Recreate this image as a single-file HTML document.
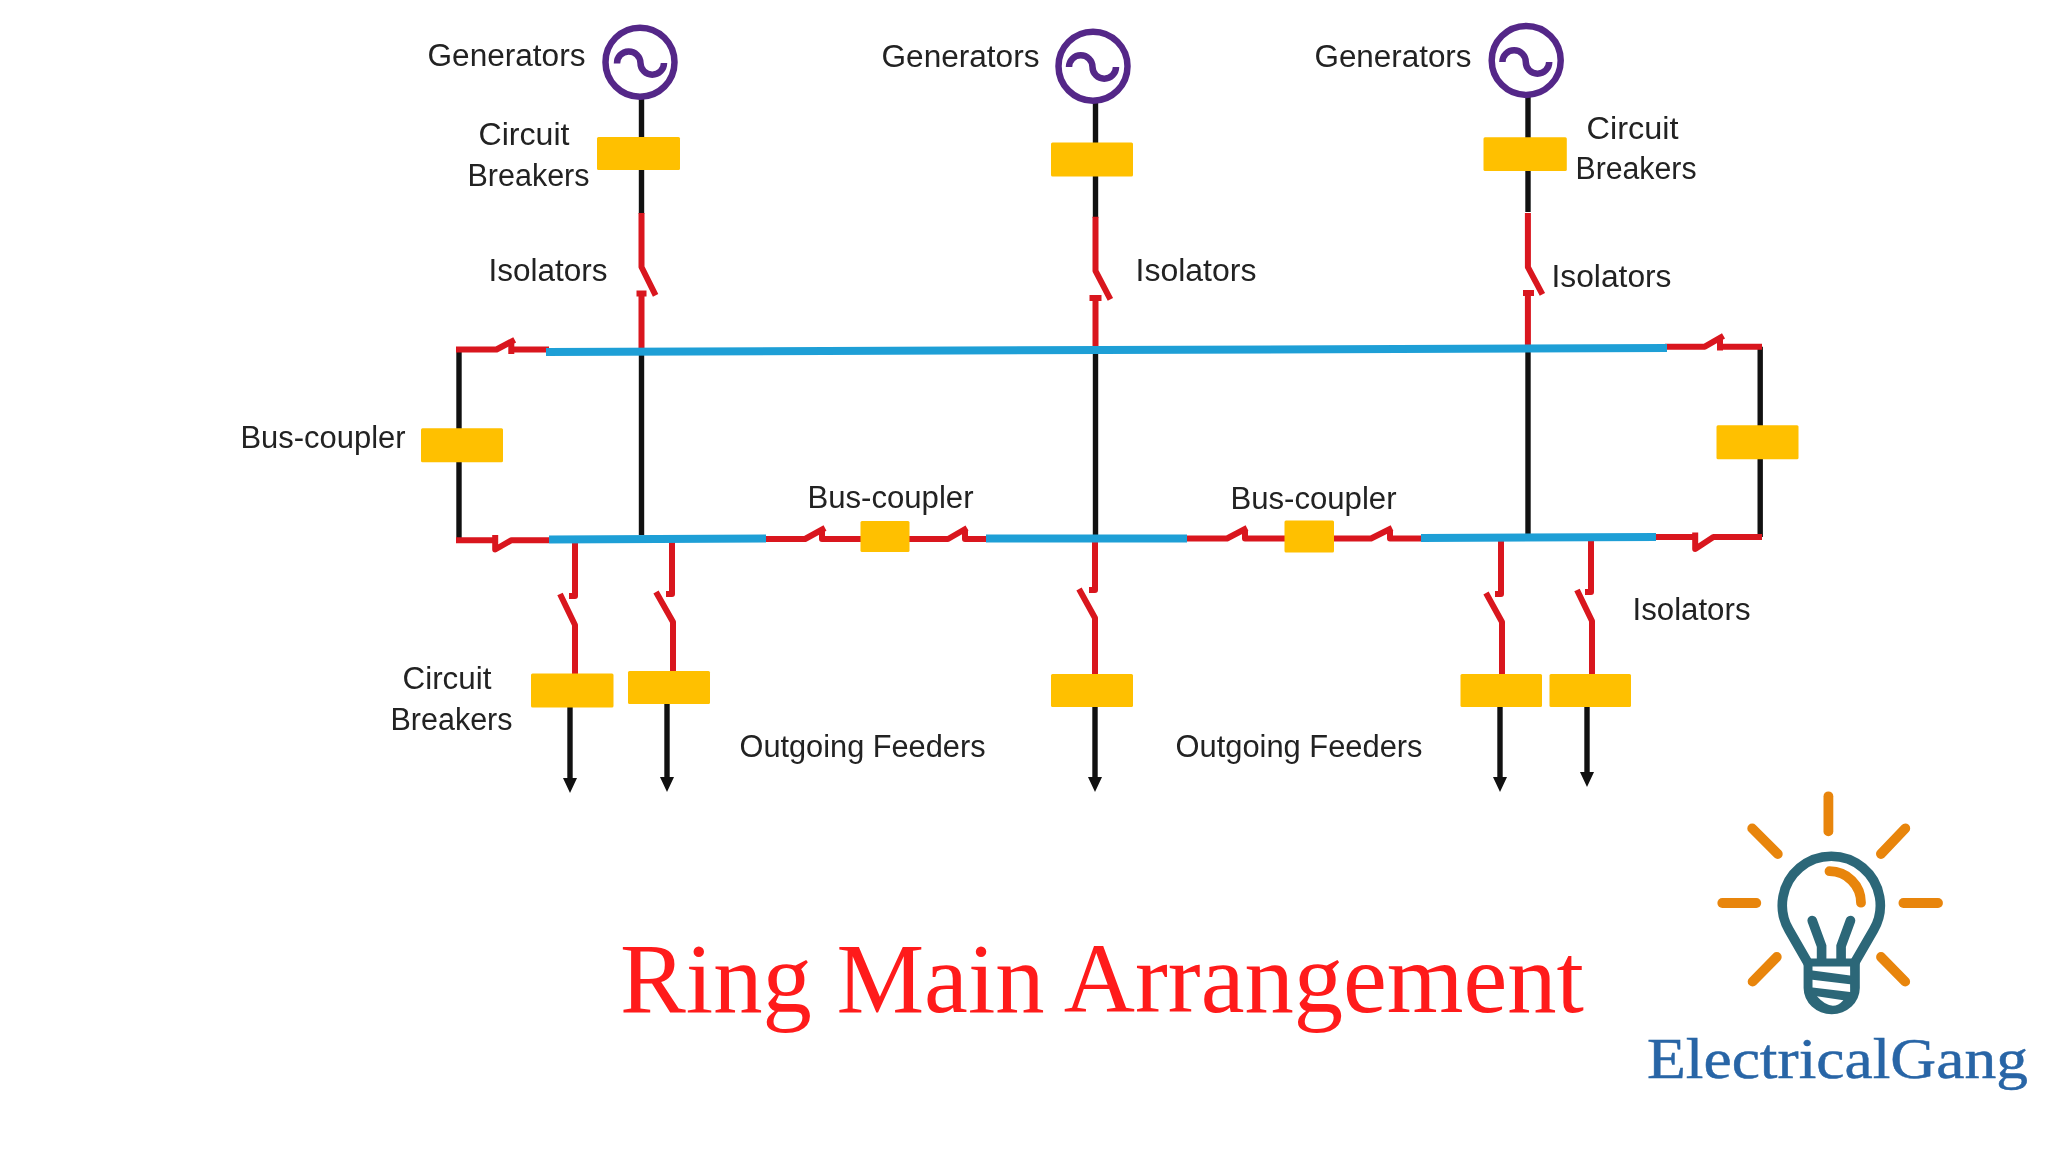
<!DOCTYPE html>
<html><head><meta charset="utf-8"><title>Ring Main Arrangement</title>
<style>
html,body{margin:0;padding:0;background:#fff;}
body{width:2048px;height:1152px;overflow:hidden;position:relative;}
svg{position:absolute;left:0;top:0;display:block;filter:blur(0.6px);}
rect{rx:1.5px;ry:1.5px;}
.lb{font-family:"Liberation Sans",sans-serif;font-size:31px;fill:#222;}
.ti{font-family:"Liberation Serif",serif;font-size:99px;fill:#FF1B1B;}
.lg{font-family:"Liberation Serif",serif;font-size:57px;fill:#2865A6;stroke:#2865A6;stroke-width:0.5px;}
</style></head>
<body>
<svg width="2048" height="1152" viewBox="0 0 2048 1152">
<g fill="none" stroke-linecap="butt" stroke-linejoin="miter">
<!-- black verticals -->
<g stroke="#111" stroke-width="5.4">
<path d="M641.5 98V214"/>
<path d="M641.5 352V535"/>
<path d="M1095.5 102V218"/>
<path d="M1095.5 351V538"/>
<path d="M1528 96V212"/>
<path d="M1528 348V538"/>
<path d="M459 349.5V540"/>
<path d="M1760.2 346.7V537"/>
<path d="M570 707V785"/>
<path d="M667 704V784"/>
<path d="M1095 707V785"/>
<path d="M1500 707V785"/>
<path d="M1587 707V780"/>
</g>
<!-- arrowheads -->
<g fill="#111" stroke="none">
<path d="M563 778H577L570 793Z"/>
<path d="M660 777H674L667 792Z"/>
<path d="M1088 777H1102L1095 792Z"/>
<path d="M1493 777H1507L1500 792Z"/>
<path d="M1580 772H1594L1587 787Z"/>
</g>
<!-- red isolators -->
<g stroke="#D9161E" stroke-width="6" stroke-linejoin="round">
<!-- gen isolators -->
<path d="M641.5 213V267L655.6 295.3"/><path d="M636.5 293.5H646.5M641.5 293.5V352"/>
<path d="M1095.5 216.7V270.8L1110.4 299.3"/><path d="M1089.5 298H1101.5M1095.5 298V351"/>
<path d="M1527.9 213V267.2L1542.4 294.3"/><path d="M1523 293H1534M1527.9 293V348.5"/>
<!-- top left / right -->
<path d="M456 349.5H496.5L514.7 339.8"/><path d="M511.3 341V354M511.3 349.5H549"/>
<path d="M1665 346.7H1704.8L1723.5 335.8"/><path d="M1720 337V350.5M1720 346.7H1762"/>
<!-- bottom left / right -->
<path d="M456 540.2H497"/><path d="M495.2 535V549.5L511.5 540.2H549"/>
<path d="M1654 537.1H1697"/><path d="M1695.2 532.5V549L1713.4 537.1H1762"/>
<!-- bus couplers bottom -->
<path d="M764 539H805L825 528"/><path d="M822 530V539H862"/>
<path d="M906 539H948L967 528"/><path d="M965 530V539H988"/>
<path d="M1185 538.5H1227L1247 528"/><path d="M1245 530V538.5H1286"/>
<path d="M1331 538.5H1371L1392 528"/><path d="M1390 530V538.5H1423"/>
<!-- feeders -->
<path d="M575 540V596H569"/><path d="M560 594L575 625V675"/>
<path d="M672 540V594H666"/><path d="M656 592L673 622V673"/>
<path d="M1095 538V590H1089"/><path d="M1079 589L1095 618V675"/>
<path d="M1501 538V594H1495"/><path d="M1486 593L1502 622V675"/>
<path d="M1591 538V592H1585"/><path d="M1577 590L1592 621V675"/>
</g>
<!-- blue buses -->
<g stroke="#1E9FD6" stroke-width="8">
<path d="M546 352L1667 348"/>
<path d="M549 539.5L766 538.5"/>
<path d="M986 538.5L1187 538.5"/>
<path d="M1421 538L1656 537"/>
</g>
<!-- generators -->
<g stroke="#542788" stroke-width="6.5">
<circle cx="640" cy="62.2" r="34.5"/>
<path d="M617 63.5A11.75 11.75 0 0 1 640.5 63A11.75 11.75 0 0 0 664 63"/>
<circle cx="1093" cy="66.2" r="34.5"/>
<path d="M1069 67A11.75 11.75 0 0 1 1092.5 67A11.75 11.75 0 0 0 1116 67"/>
<circle cx="1526.2" cy="60.4" r="34.5"/>
<path d="M1502.4 62A11.7 11.7 0 0 1 1525.8 62A11.7 11.7 0 0 0 1549.2 62"/>
</g>
</g>
<!-- yellow boxes -->
<g fill="#FFC000">
<rect x="597" y="137" width="83" height="33"/>
<rect x="1051" y="142.5" width="82" height="34"/>
<rect x="1483.5" y="137.3" width="83.3" height="33.7"/>
<rect x="421" y="428.3" width="82" height="34"/>
<rect x="1716.5" y="425.3" width="82" height="34"/>
<rect x="860.5" y="521" width="49" height="31"/>
<rect x="1284.5" y="520.5" width="49.5" height="32"/>
<rect x="531" y="673.5" width="82.5" height="34"/>
<rect x="628" y="671" width="82" height="33"/>
<rect x="1051" y="674" width="82" height="33"/>
<rect x="1460.5" y="674" width="81.5" height="33"/>
<rect x="1549.5" y="674" width="81.5" height="33"/>
</g>
<!-- labels -->
<g class="lb">
<text x="427.5" y="66" textLength="158" lengthAdjust="spacingAndGlyphs">Generators</text>
<text x="478.5" y="145" textLength="91" lengthAdjust="spacingAndGlyphs">Circuit</text>
<text x="467.5" y="186" textLength="122" lengthAdjust="spacingAndGlyphs">Breakers</text>
<text x="488.5" y="281" textLength="119" lengthAdjust="spacingAndGlyphs">Isolators</text>
<text x="881.5" y="67" textLength="158" lengthAdjust="spacingAndGlyphs">Generators</text>
<text x="1135.5" y="281" textLength="121" lengthAdjust="spacingAndGlyphs">Isolators</text>
<text x="1314.5" y="67" textLength="157" lengthAdjust="spacingAndGlyphs">Generators</text>
<text x="1586.5" y="139" textLength="92" lengthAdjust="spacingAndGlyphs">Circuit</text>
<text x="1575.5" y="179" textLength="121" lengthAdjust="spacingAndGlyphs">Breakers</text>
<text x="1551.5" y="287" textLength="120" lengthAdjust="spacingAndGlyphs">Isolators</text>
<text x="240.5" y="448" textLength="165" lengthAdjust="spacingAndGlyphs">Bus-coupler</text>
<text x="807.5" y="508" textLength="166" lengthAdjust="spacingAndGlyphs">Bus-coupler</text>
<text x="1230.5" y="509" textLength="166" lengthAdjust="spacingAndGlyphs">Bus-coupler</text>
<text x="402.5" y="689" textLength="89" lengthAdjust="spacingAndGlyphs">Circuit</text>
<text x="390.5" y="730" textLength="122" lengthAdjust="spacingAndGlyphs">Breakers</text>
<text x="1632.5" y="620" textLength="118" lengthAdjust="spacingAndGlyphs">Isolators</text>
<text x="739.5" y="757" textLength="246" lengthAdjust="spacingAndGlyphs">Outgoing Feeders</text>
<text x="1175.5" y="757" textLength="247" lengthAdjust="spacingAndGlyphs">Outgoing Feeders</text>
</g>
<text class="ti" x="620" y="1012" textLength="964" lengthAdjust="spacingAndGlyphs">Ring Main Arrangement</text>
<!-- logo -->
<g stroke-linecap="round" fill="none">
<g stroke="#E8850C" stroke-width="9.8">
<path d="M1828.4 796.3V831.4"/>
<path d="M1752.2 828.4L1777.8 854"/>
<path d="M1905.3 828.4L1880.9 854"/>
<path d="M1722.3 903H1756.3"/>
<path d="M1903.4 903H1938"/>
<path d="M1776.8 957L1752.6 981.6"/>
<path d="M1881 957L1905.2 981.6"/>
<path d="M1829.5 871.2A31.5 31.5 0 0 1 1861 902.7"/>
</g>
<g stroke="#2C6778" stroke-width="9.6">
<path d="M1808 963L1789 930A49 49 0 1 1 1873.6 930L1854.5 963"/>
<path d="M1812.2 920.5L1821.6 946V962"/>
<path d="M1850.5 920.5L1841.1 946V962"/>
</g>
<path fill="#2C6778" d="M1803.6 958.5H1859.8V988A28.1 26.2 0 0 1 1803.6 988Z"/>
<g fill="#fff">
<path d="M1812.5 966.6H1850.1V975.4L1812.5 970.5Z"/>
<path d="M1812.5 979.8L1850.1 984.2V992L1812.5 987.6Z"/>
<path d="M1816.9 996.3L1843.4 1000.2Q1832 1013 1816.9 996.3Z"/>
</g>
</g>
<text class="lg" x="1647" y="1078" textLength="381" lengthAdjust="spacingAndGlyphs">ElectricalGang</text>
</svg>
</body></html>
